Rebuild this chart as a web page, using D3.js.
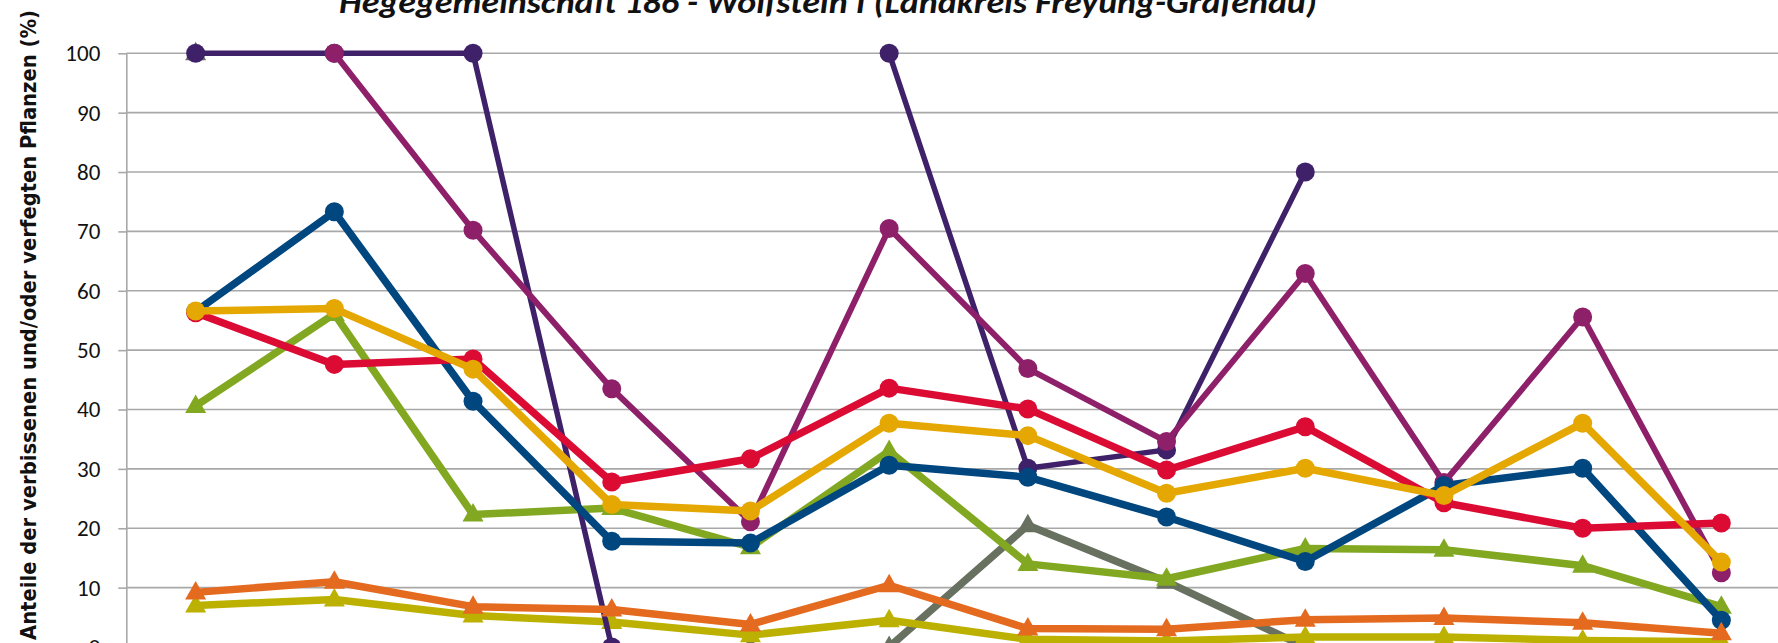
<!DOCTYPE html>
<html>
<head>
<meta charset="utf-8">
<script src="https://cdn.jsdelivr.net/npm/d3@7"></script>
<style>
  html, body { margin: 0; padding: 0; background: #ffffff; overflow: hidden; }
  svg { display: block; }
</style>
</head>
<body>
<svg id="chart" width="1778" height="643"></svg>
<script>
// ---------- data ----------
const years = ["1991","1994","1997","2000","2003","2006","2009","2012","2015","2018","2021","2024"];
const yTicks = [0,10,20,30,40,50,60,70,80,90,100];
const titleText = "Hegegemeinschaft 186 - Wolfstein I (Landkreis Freyung-Grafenau)";
const yTitle = "Anteile der verbissenen und/oder verfegten Pflanzen (%)";

const greyTri    = [100, null, null, null, 0, 0, 20.5, 11.0, 0, null, null, null];
const oliveTri   = [7.0, 8.0, 5.3, 4.2, 2.0, 4.5, 1.3, 1.0, 1.7, 1.7, 1.1, 0.9];
const greenTri   = [40.6, 56.1, 22.3, 23.4, 16.8, 33.0, 14.0, 11.5, 16.6, 16.4, 13.7, 6.8];
const purpleDot  = [100, 100, 100, 0, null, 100, 30.1, 33.2, 80.0, null, null, null];
const magentaDot = [null, 100, 70.2, 43.5, 21.1, 70.5, 46.9, 34.6, 62.9, 27.7, 55.6, 12.5];
const blueDot    = [56.5, 73.3, 41.4, 17.8, 17.5, 30.6, 28.6, 21.9, 14.4, 27.2, 30.1, 4.5];
const redDot     = [56.3, 47.6, 48.5, 27.8, 31.7, 43.6, 40.1, 29.8, 37.1, 24.3, 20.0, 20.9];
const yellowDot  = [56.6, 57.0, 46.8, 24.0, 22.9, 37.7, 35.6, 25.9, 30.1, 25.5, 37.7, 14.3];
const orangeTri  = [9.2, 11.0, 6.8, 6.3, 3.8, 10.4, 3.1, 3.0, 4.6, 4.9, 4.1, 2.3];

const seriesNames  = ["Sonstiges", "Edellaubholz Fegen", "Laubholz gesamt", "Tanne", "Edellaubholz", "Fichte", "Buche", "Laubholz", "Fegeschäden"];
const seriesValues = [greyTri, oliveTri, greenTri, purpleDot, magentaDot, blueDot, redDot, yellowDot, orangeTri];
const seriesColors = ["#687160", "#bcb100", "#82a822", "#3e2169", "#8e206a", "#00467f", "#db0b34", "#e5a702", "#e46a1f"];
const seriesShapes = ["tri", "tri", "tri", "dot", "dot", "dot", "dot", "dot", "tri"];
const seriesWidths = [7.5, 7.5, 7.5, 5.5, 6, 7.5, 7.5, 7.5, 7.5];

// ---------- layout ----------
const W = 1778, H = 643;
const plotLeft = 126.3, bandW = 138.7;
const svg = d3.select("#chart");

const x = d3.scaleBand().domain(years).range([plotLeft, plotLeft + bandW * years.length]).padding(0);
const y = d3.scaleLinear().domain([0, 100]).range([647, 53.3]);
const cx = d => x(d) + x.bandwidth() / 2;

// gridlines
svg.append("g").selectAll("line").data(yTicks).join("line")
  .attr("x1", plotLeft).attr("x2", x.range()[1])
  .attr("y1", d => y(d)).attr("y2", d => y(d))
  .attr("stroke", "#a8a8a8").attr("stroke-width", 1.6);

// y axis
const yAxis = d3.axisLeft(y).tickValues(yTicks).tickSize(8).tickPadding(18).tickSizeOuter(0);
const gy = svg.append("g").attr("transform", `translate(${plotLeft},0)`).call(yAxis);
gy.select(".domain").attr("stroke", "#a8a8a8").attr("stroke-width", 1.6);
gy.selectAll(".tick line").attr("stroke", "#a8a8a8").attr("stroke-width", 1.6);
gy.selectAll(".tick text")
  .attr("fill", "#111")
  .style("font-family", "Carlito, Lato, 'Liberation Sans', sans-serif")
  .style("font-size", "23px");

// x axis line (sits at the cropped bottom edge; its labels lie outside the picture)
const xAxis = d3.axisBottom(x).tickSize(0).tickFormat("");
const gx = svg.append("g").attr("transform", `translate(0,${y(0)})`).call(xAxis);
gx.select(".domain").attr("stroke", "#a8a8a8").attr("stroke-width", 1.6);

// series
const line = d3.line()
  .defined(d => d.v !== null)
  .x(d => cx(d.k))
  .y(d => y(d.v));

const triPath = "M0,-11.5L10.5,7L-10.5,7Z";

seriesValues.forEach((vals, i) => {
  const pts = vals.map((v, j) => ({ k: years[j], v }));
  const g = svg.append("g").attr("class", "series").attr("data-name", seriesNames[i]);
  g.append("path")
    .datum(pts)
    .attr("fill", "none")
    .attr("stroke", seriesColors[i])
    .attr("stroke-width", seriesWidths[i])
    .attr("stroke-linejoin", "round")
    .attr("d", line);
  const valid = pts.filter(d => d.v !== null);
  if (seriesShapes[i] === "dot") {
    g.selectAll("circle").data(valid).join("circle")
      .attr("cx", d => cx(d.k)).attr("cy", d => y(d.v))
      .attr("r", 9.5).attr("fill", seriesColors[i]);
  } else {
    g.selectAll("path.m").data(valid).join("path")
      .attr("class", "m")
      .attr("transform", d => `translate(${cx(d.k)},${y(d.v)})`)
      .attr("d", triPath).attr("fill", seriesColors[i]);
  }
});

// y axis title
svg.append("text")
  .attr("transform", "translate(36,325) rotate(-90)")
  .attr("text-anchor", "middle")
  .attr("textLength", 630)
  .attr("lengthAdjust", "spacingAndGlyphs")
  .style("font-family", "'DejaVu Sans', Verdana, sans-serif")
  .style("font-weight", "bold")
  .style("font-size", "21px")
  .attr("fill", "#111")
  .text(yTitle);

// chart title (cropped at the top)
svg.append("text")
  .attr("x", 828).attr("y", 13)
  .attr("text-anchor", "middle")
  .attr("textLength", 978)
  .attr("lengthAdjust", "spacingAndGlyphs")
  .style("font-family", "Carlito, Lato, 'Open Sans', sans-serif")
  .style("font-weight", "bold")
  .style("font-style", "italic")
  .style("font-size", "33px")
  .attr("fill", "#111")
  .text(titleText);
</script>
</body>
</html>
